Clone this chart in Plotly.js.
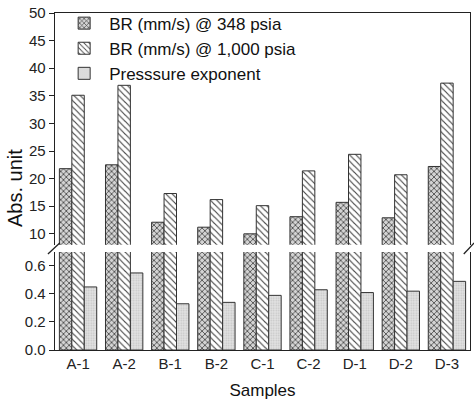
<!DOCTYPE html>
<html>
<head>
<meta charset="utf-8">
<script src="https://cdn.plot.ly/plotly-3.0.1.min.js"></script>
<style>html,body{margin:0;padding:0;background:#fff;}#chart{width:474px;height:400px;}</style>
</head>
<body>
<div id="chart"></div>
<script>
const samples = ['A-1','A-2','B-1','B-2','C-1','C-2','D-1','D-2','D-3'];
const br348 = [21.8, 22.5, 12.1, 11.2, 10.0, 13.1, 15.7, 12.9, 22.2];
const br1000 = [35.1, 36.9, 17.3, 16.2, 15.1, 21.4, 24.4, 20.7, 37.3];
const pexp = [0.45, 0.55, 0.33, 0.34, 0.39, 0.43, 0.41, 0.42, 0.49];
const names = ['BR (mm/s) @ 348 psia', 'BR (mm/s) @ 1,000 psia', 'Presssure exponent'];

const W = 0.27;
const lineStyle = {color: '#333', width: 1};
const patA = {shape: 'x', fgcolor: '#3a3a3a', bgcolor: '#d4d4d4', size: 4, solidity: 0.35};
const patB = {shape: '\\', fgcolor: '#444', bgcolor: '#ffffff', size: 4.5, solidity: 0.25};
const patC = {shape: '.', fgcolor: '#c4c4c4', bgcolor: '#e2e2e2', size: 2.5, solidity: 0.3};

function bar(y, name, pat, off, xa, ya, show) {
  return {type: 'bar', x: samples, y: y, name: name, xaxis: xa, yaxis: ya,
    width: W, offset: off, showlegend: show, legendgroup: name,
    marker: {color: pat.bgcolor, pattern: pat, line: lineStyle}, hoverinfo: 'skip'};
}

const data = [
  bar(br348, names[0], patA, -1.5*W, 'x2', 'y', true),
  bar(br1000, names[1], patB, -0.5*W, 'x2', 'y', true),
  bar(br348, names[0], patA, -1.5*W, 'x', 'y2', false),
  bar(br1000, names[1], patB, -0.5*W, 'x', 'y2', false),
  bar(pexp, names[2], patC, 0.5*W, 'x', 'y2', true)
];

const FF = 'Liberation Sans, Arial, sans-serif';
const tf = {family: FF, size: 15, color: '#222'};
const axLine = {showline: true, linecolor: '#222', linewidth: 1.3, showgrid: false, zeroline: false};

const layout = {
  width: 474, height: 400,
  margin: {l: 55, r: 4, t: 13, b: 50},
  paper_bgcolor: '#fff', plot_bgcolor: '#fff',
  barmode: 'overlay',
  font: tf,
  showlegend: true,
  legend: {x: 0.01, y: 1.022, xanchor: 'left', yanchor: 'top', bgcolor: 'rgba(0,0,0,0)',
    font: {family: FF, size: 17, color: '#111'},
    tracegroupgap: 0, itemwidth: 40},
  xaxis: Object.assign({}, axLine, {anchor: 'y2', domain: [0, 1], type: 'category',
    range: [-0.5, 8.5], ticks: '', tickfont: tf,
    title: {text: 'Samples', font: {family: FF, size: 17, color: '#111'}, standoff: 14}}),
  xaxis2: Object.assign({}, axLine, {anchor: 'y', matches: 'x', side: 'top', type: 'category',
    range: [-0.5, 8.5], showticklabels: false, ticks: ''}),
  yaxis: Object.assign({}, axLine, {domain: [0.312, 1], range: [8, 50], tick0: 0, dtick: 5,
    ticks: 'outside', ticklen: 5, tickcolor: '#222', mirror: true, tickfont: tf}),
  yaxis2: Object.assign({}, axLine, {domain: [0, 0.291], range: [0, 0.7], tick0: 0, dtick: 0.2,
    tickformat: '.1f', ticks: 'outside', ticklen: 5, tickcolor: '#222', mirror: true, tickfont: tf}),
  annotations: [{text: 'Abs. unit', xref: 'paper', yref: 'paper', x: -0.097, y: 0.48,
    xanchor: 'center', yanchor: 'middle', textangle: -90, showarrow: false,
    font: {family: FF, size: 20, color: '#111'}}],
  shapes: [
    {type: 'line', xref: 'paper', yref: 'paper', x0: -0.017, x1: 0.012, y0: 0.285, y1: 0.318, line: {color: '#222', width: 1.3}},
    {type: 'line', xref: 'paper', yref: 'paper', x0: 0.985, x1: 1.01, y0: 0.285, y1: 0.318, line: {color: '#222', width: 1.3}}
  ]
};

Plotly.newPlot('chart', data, layout, {displayModeBar: false, staticPlot: true});
</script>
</body>
</html>
